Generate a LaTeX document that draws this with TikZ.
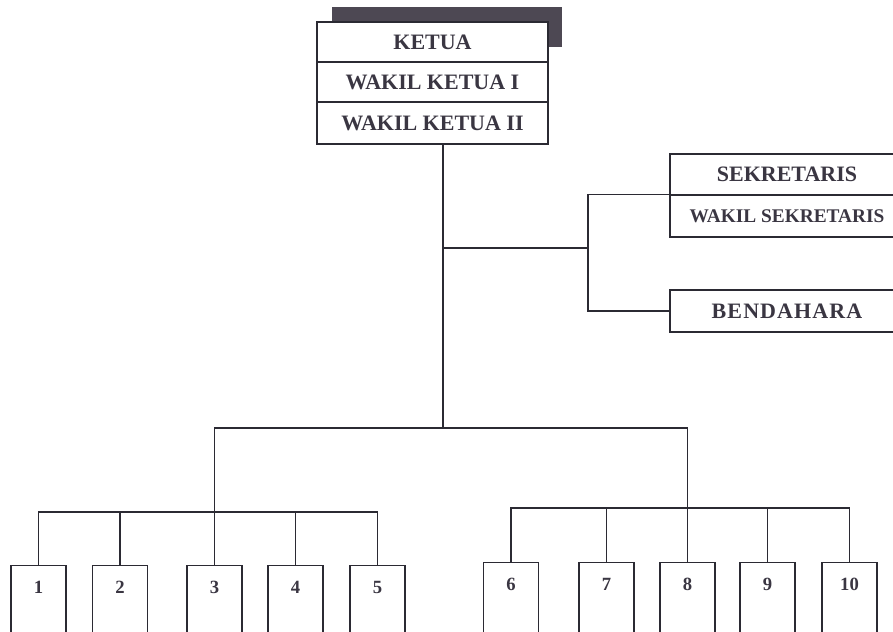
\documentclass[tikz,border=0pt]{standalone}
\usepackage{fontspec}
\setmainfont{Liberation Serif}
\newfontfamily\widefont[LetterSpace=5]{Liberation Serif}
\definecolor{ink}{HTML}{2B2A33}
\definecolor{txt}{HTML}{3A3642}
\definecolor{shade}{HTML}{4D4853}
\begin{document}
\begin{tikzpicture}[x=0.75pt,y=-0.75pt,
  conn/.style={draw=ink, line width=1.1pt},
  box/.style={draw=ink, line width=1.1pt, fill=white, inner sep=0pt, text=txt, font=\fontsize{16.5}{18}\selectfont\bfseries},
  shadowbox/.style={fill=shade, draw=none, inner sep=0pt},
  numbox/.style={draw=ink, line width=1.1pt, fill=white, anchor=north, minimum width=55*0.75pt,
    inner xsep=0pt, inner ysep=11pt, text height=10pt, text depth=50pt, text=txt,
    font=\fontsize{14}{16}\selectfont\bfseries}]
\useasboundingbox (0,0) rectangle (893,632);
\clip (0,0) rectangle (893,632);
\fill[white] (0,0) rectangle (893,632);

% top stack
\node[shadowbox, minimum width=230*0.75pt, minimum height=40*0.75pt] (sh) at (447,27) {};
\node[box, minimum width=231*0.75pt, minimum height=40*0.75pt] (ketua) at (432.5,42) {KETUA};
\node[box, minimum width=231*0.75pt, minimum height=40*0.75pt] (wk1) at (432.5,82) {WAKIL KETUA I};
\node[box, minimum width=231*0.75pt, minimum height=42*0.75pt] (wk2) at (432.5,123) {WAKIL KETUA II};

% right side
\node[box, minimum width=234*0.75pt, minimum height=41*0.75pt] (sek) at (787,174.5) {SEKRETARIS};
\node[box, minimum width=234*0.75pt, minimum height=42*0.75pt, font=\fontsize{14.5}{16}\selectfont\bfseries] (wsek) at (787,216) {WAKIL SEKRETARIS};
\node[box, minimum width=234*0.75pt, minimum height=42*0.75pt, font=\widefont\fontsize{16.5}{18}\selectfont\bfseries] (bend) at (787,311) {BENDAHARA};

% bottom boxes
\node[numbox] (n1) at (38.5,565) {1};
\node[numbox] (n2) at (120,565) {2};
\node[numbox] (n3) at (214.5,565) {3};
\node[numbox] (n4) at (295.5,565) {4};
\node[numbox] (n5) at (377.5,565) {5};
\node[numbox] (n6) at (511,562) {6};
\node[numbox] (n7) at (606.5,562) {7};
\node[numbox] (n8) at (687.5,562) {8};
\node[numbox] (n9) at (767.5,562) {9};
\node[numbox] (n10) at (849.5,562) {10};

% trunk
\coordinate (t1) at (443,248);
\coordinate (bar) at (443,428);
\coordinate (br) at (588,248);
\coordinate (lb) at (0,512);
\coordinate (rb) at (0,508);

\draw[conn] (wk2.south -| t1) -- (bar);
\draw[conn] (t1) -- (br);
\draw[conn] (wsek.north west) -- (wsek.north west -| br) -- (bend.west -| br) -- (bend.west);

\draw[conn] (n3.north) -- (n3.north |- bar) -- (n8.north |- bar) -- (n8.north);

\draw[conn] (n1.north) -- (n1.north |- lb) -- (n5.north |- lb) -- (n5.north);
\draw[conn] (n2.north) -- (n2.north |- lb);
\draw[conn] (n4.north) -- (n4.north |- lb);

\draw[conn] (n6.north) -- (n6.north |- rb) -- (n10.north |- rb) -- (n10.north);
\draw[conn] (n7.north) -- (n7.north |- rb);
\draw[conn] (n9.north) -- (n9.north |- rb);
\end{tikzpicture}
\end{document}
